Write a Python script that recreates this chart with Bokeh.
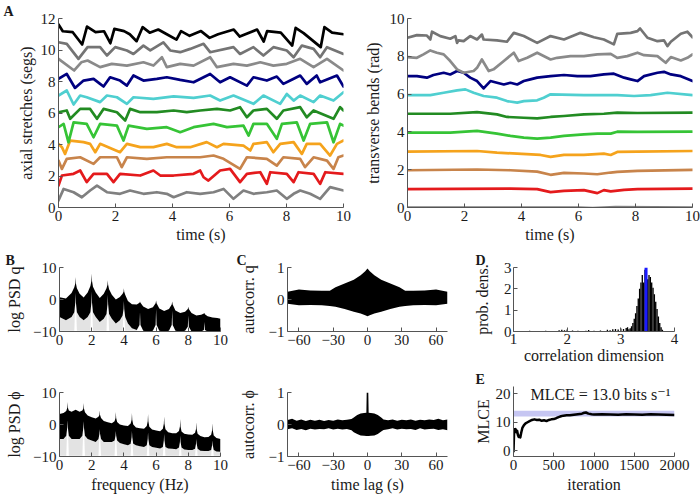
from bokeh.plotting import figure
from bokeh.layouts import row, column
from bokeh.models import Range1d, FixedTicker, Label, CustomJSTickFormatter
from bokeh.embed import file_html
from bokeh.resources import INLINE

# ---------------- DATA ----------------
# Panel A (left): axial stretches, keypoints (time s, value)
AX_GRAY1 = [(0, 0.44), (0.18, 1.18), (0.53, 0.97), (0.82, 0.65), (1.11, 1.08), (1.35, 1.39), (1.70, 0.97), (2.16, 0.87), (2.51, 1.08), (2.98, 0.87), (3.45, 0.97), (3.80, 0.87), (4.04, 0.65), (4.50, 0.97), (4.97, 0.87), (5.44, 0.97), (5.79, 1.18), (6.14, 0.55), (6.49, 1.08), (6.84, 0.87), (7.31, 0.97), (7.66, 1.08), (8.01, 0.55), (8.25, 0.87), (8.48, 1.08), (8.83, 0.87), (9.18, 0.55), (9.53, 1.29), (10, 1.08)]
AX_RED = [(0, 1.39), (0.12, 2.03), (0.53, 2.14), (0.76, 2.35), (0.99, 1.61), (1.23, 2.14), (1.70, 2.14), (1.93, 1.61), (2.16, 2.14), (2.87, 2.03), (3.33, 2.35), (3.57, 2.03), (4.04, 2.03), (4.74, 2.14), (4.97, 2.35), (5.09, 1.92), (5.26, 1.71), (5.67, 2.35), (6.02, 2.45), (6.37, 1.61), (6.61, 2.14), (7.08, 2.24), (7.31, 1.50), (7.43, 2.24), (8.01, 2.14), (8.25, 1.61), (8.42, 2.24), (8.95, 2.14), (9.18, 1.50), (9.36, 2.24), (10, 2.14)]
AX_BROWN = [(0, 2.98), (0.12, 2.45), (0.29, 3.09), (0.76, 3.19), (1.23, 2.77), (1.46, 3.19), (2.05, 3.19), (2.22, 2.56), (2.40, 3.19), (3.10, 3.09), (3.80, 3.19), (4.50, 3.19), (4.97, 3.19), (5.44, 3.30), (5.79, 3.09), (6.37, 2.45), (6.61, 3.19), (7.31, 3.09), (7.66, 2.66), (7.89, 3.19), (8.48, 3.09), (8.65, 2.56), (8.95, 3.19), (9.42, 2.98), (9.65, 2.45), (9.82, 3.19), (10, 3.30)]
AX_ORANGE = [(0, 4.04), (0.12, 3.83), (0.23, 3.40), (0.41, 4.25), (0.88, 4.15), (1.11, 4.04), (1.29, 3.51), (1.46, 4.04), (2.16, 3.51), (2.40, 4.04), (2.87, 3.83), (3.33, 3.83), (3.80, 4.04), (4.15, 3.83), (4.62, 3.83), (5.20, 4.15), (5.56, 3.83), (5.79, 4.04), (6.49, 3.93), (6.73, 3.62), (6.84, 4.04), (7.31, 4.15), (7.54, 3.51), (7.78, 4.04), (8.25, 4.15), (8.54, 3.40), (8.71, 4.04), (9.18, 4.04), (9.53, 3.30), (9.77, 4.04), (10, 4.25)]
AX_LIME = [(0, 5.10), (0.18, 5.31), (0.35, 4.14), (0.53, 5.41), (0.99, 5.31), (1.23, 4.46), (1.46, 5.31), (2.05, 5.20), (2.28, 4.25), (2.46, 5.20), (3.10, 4.99), (3.80, 5.10), (4.27, 4.78), (4.74, 5.10), (5.44, 5.31), (5.91, 5.10), (6.49, 5.20), (6.67, 4.57), (6.84, 5.31), (7.31, 5.31), (7.66, 4.36), (7.84, 5.31), (8.36, 5.41), (8.60, 4.25), (8.83, 5.31), (9.42, 5.41), (9.65, 4.14), (9.88, 5.31), (10, 5.20)]
AX_DGREEN = [(0, 6.05), (0.29, 6.16), (0.41, 5.63), (0.76, 6.26), (1.11, 6.26), (1.35, 5.63), (1.58, 6.26), (2.05, 6.05), (2.34, 5.52), (2.51, 6.26), (2.87, 6.05), (3.45, 6.05), (4.04, 6.16), (4.50, 6.05), (4.97, 6.16), (5.56, 6.26), (6.02, 6.16), (6.37, 6.37), (6.61, 5.73), (6.84, 6.16), (7.31, 6.26), (7.66, 5.63), (7.89, 6.16), (8.48, 6.37), (8.71, 5.73), (8.95, 6.16), (9.65, 5.63), (9.88, 6.37), (10, 6.16)]
AX_CYAN = [(0, 7.11), (0.29, 7.43), (0.53, 6.54), (0.76, 7.11), (0.99, 7.00), (1.46, 6.69), (1.70, 7.11), (2.05, 7.00), (2.40, 6.58), (2.63, 7.00), (3.33, 6.90), (4.04, 7.05), (4.74, 6.96), (5.32, 7.11), (5.67, 6.79), (6.14, 7.11), (6.84, 6.58), (7.19, 7.11), (7.78, 6.58), (8.01, 7.21), (8.25, 6.79), (8.48, 7.11), (8.95, 6.69), (9.18, 7.11), (9.65, 6.79), (10, 7.32)]
AX_NAVY = [(0, 8.17), (0.29, 8.48), (0.58, 7.59), (0.88, 8.06), (1.23, 8.17), (1.46, 7.85), (1.58, 7.68), (1.81, 8.27), (2.16, 8.06), (2.40, 7.74), (2.63, 8.38), (2.98, 8.06), (3.45, 8.17), (3.80, 8.27), (4.27, 8.10), (4.74, 7.95), (5.32, 8.48), (5.67, 7.95), (6.02, 8.27), (6.61, 7.74), (6.84, 8.27), (7.31, 8.06), (7.66, 8.31), (7.89, 7.85), (8.13, 8.06), (8.48, 8.38), (8.71, 7.85), (9.06, 8.38), (9.18, 7.95), (9.77, 8.38), (10, 7.68)]
AX_GRAY9 = [(0, 9.44), (0.55, 8.70), (0.80, 9.22), (1.02, 9.33), (1.46, 8.91), (1.87, 9.12), (2.40, 9.01), (2.98, 9.22), (3.33, 9.01), (3.63, 9.54), (3.80, 8.91), (4.27, 9.12), (4.74, 9.01), (5.32, 9.54), (5.56, 8.91), (6.14, 9.12), (6.61, 9.01), (7.08, 9.22), (7.54, 9.01), (8.01, 9.12), (8.48, 9.44), (8.95, 8.91), (9.42, 9.44), (10, 8.70)]
AX_GRAY10 = [(0, 10.49), (0.29, 10.39), (0.70, 9.44), (1.02, 10.18), (1.46, 10.18), (1.70, 9.65), (1.99, 10.18), (2.40, 9.97), (2.63, 9.75), (2.98, 10.28), (3.22, 9.97), (3.68, 10.49), (3.92, 9.97), (4.27, 9.86), (4.62, 10.07), (5.09, 10.39), (5.32, 9.86), (6.14, 10.18), (6.37, 9.75), (6.84, 10.18), (7.19, 9.65), (7.54, 10.18), (8.01, 9.97), (8.25, 9.54), (8.54, 10.28), (8.95, 10.07), (9.18, 9.54), (9.42, 10.18), (10, 9.75)]
AX_BLACK = [(0, 11.62), (0.15, 11.19), (0.50, 11.13), (0.83, 10.35), (1.00, 11.49), (1.30, 11.13), (1.60, 11.19), (1.82, 10.43), (1.96, 11.34), (2.30, 11.20), (2.50, 11.00), (2.74, 10.56), (2.95, 11.45), (3.20, 11.10), (3.50, 11.30), (3.80, 11.00), (4.14, 10.66), (4.30, 11.20), (4.60, 10.90), (5.00, 11.20), (5.30, 10.77), (5.60, 11.00), (6.15, 11.30), (6.36, 10.85), (6.97, 11.30), (7.20, 10.54), (7.32, 11.20), (7.80, 11.10), (8.20, 10.28), (8.32, 11.40), (8.60, 11.07), (9.20, 10.18), (9.33, 11.45), (9.60, 11.10), (10, 11.00)]

# Panel A (right): transverse bends, keypoints (time s, value)
TB_GRAY0 = [(0, 0.0), (6.0, 0.0), (6.5, -0.03), (7.3, 0.02), (10, 0.0)]
TB_RED = [(0, 0.97), (3.61, 1.00), (4.55, 0.97), (5.02, 0.81), (5.49, 0.88), (6.19, 0.92), (6.66, 0.76), (6.89, 0.92), (7.13, 0.85), (7.60, 0.93), (8.07, 0.97), (10, 1.00)]
TB_BROWN = [(0, 1.97), (2.44, 2.01), (3.61, 1.97), (4.55, 1.90), (5.02, 1.73), (5.49, 1.83), (6.19, 1.80), (6.66, 1.76), (7.13, 1.85), (7.36, 1.88), (8.07, 1.94), (10, 1.99)]
TB_ORANGE = [(0, 2.96), (2.44, 2.99), (3.14, 2.90), (3.85, 2.85), (4.67, 2.78), (5.02, 2.68), (5.49, 2.78), (6.19, 2.78), (6.89, 2.85), (7.13, 2.78), (7.36, 2.94), (8.07, 2.96), (10, 2.99)]
TB_LIME = [(0, 3.96), (1.50, 3.96), (2.44, 4.05), (3.14, 3.91), (3.61, 3.79), (4.08, 3.70), (4.55, 3.64), (5.02, 3.70), (5.49, 3.79), (6.19, 3.87), (6.66, 3.91), (7.13, 3.91), (7.36, 4.01), (8.07, 4.00), (10, 4.01)]
TB_DGREEN = [(0, 4.96), (1.50, 4.96), (2.44, 5.05), (3.14, 4.93), (3.49, 4.79), (4.08, 4.75), (4.55, 4.72), (5.02, 4.79), (5.49, 4.84), (6.19, 4.93), (6.89, 4.96), (7.36, 5.02), (8.07, 5.00), (10, 5.02)]
TB_CYAN = [(0, 5.95), (0.80, 5.95), (1.27, 6.07), (1.74, 6.20), (2.03, 6.25), (2.32, 6.07), (2.67, 5.90), (3.14, 5.81), (3.49, 5.63), (3.85, 5.55), (4.08, 5.63), (4.55, 5.67), (4.78, 5.81), (5.02, 5.99), (6.19, 5.95), (7.36, 5.95), (7.95, 5.90), (8.53, 5.95), (9.12, 6.07), (10, 5.95)]
TB_NAVY = [(0, 6.95), (0.33, 6.95), (0.68, 6.87), (0.91, 7.01), (1.27, 7.13), (1.50, 7.04), (1.74, 7.22), (1.97, 7.13), (2.20, 6.87), (2.44, 6.69), (2.67, 6.30), (2.91, 6.69), (3.14, 6.60), (3.38, 6.51), (3.61, 6.60), (3.85, 6.51), (4.08, 6.69), (4.31, 6.78), (4.55, 6.87), (5.02, 6.95), (5.49, 7.01), (5.96, 6.95), (6.42, 6.95), (6.89, 7.04), (7.24, 7.08), (7.60, 6.87), (7.83, 6.78), (8.07, 6.69), (8.30, 6.95), (8.77, 7.13), (9.00, 7.18), (9.24, 7.04), (9.59, 6.95), (10, 6.69)]
TB_GRAY8 = [(0, 7.96), (0.33, 7.92), (0.56, 8.10), (0.80, 8.31), (1.03, 8.19), (1.27, 8.10), (1.50, 7.75), (1.74, 7.31), (1.97, 7.13), (2.32, 7.22), (2.44, 7.39), (2.61, 7.83), (2.85, 7.22), (3.02, 7.31), (3.38, 7.75), (3.73, 8.19), (3.90, 7.75), (4.20, 7.92), (4.55, 8.19), (5.02, 7.83), (5.25, 7.92), (5.72, 8.01), (6.19, 8.01), (6.66, 8.10), (7.13, 8.13), (7.36, 7.92), (7.71, 8.01), (8.07, 8.19), (8.30, 8.06), (8.77, 8.01), (9.06, 7.66), (9.24, 7.96), (9.59, 7.78), (9.82, 7.92), (10, 8.10)]
TB_GRAY9 = [(0, 8.98), (0.33, 9.12), (0.68, 9.10), (0.80, 8.89), (0.86, 9.30), (1.15, 9.07), (1.50, 8.93), (1.68, 9.07), (1.74, 8.71), (1.79, 8.84), (1.97, 8.80), (2.20, 9.07), (2.44, 8.89), (2.61, 9.15), (2.67, 8.89), (3.14, 8.84), (3.49, 8.77), (3.73, 9.24), (4.08, 9.07), (4.55, 8.71), (5.02, 9.07), (5.49, 8.89), (6.07, 9.24), (6.54, 9.01), (6.89, 8.89), (7.24, 8.63), (7.36, 9.19), (7.83, 9.24), (8.07, 9.33), (8.16, 9.47), (8.42, 8.98), (8.77, 8.80), (9.00, 8.84), (9.12, 8.54), (9.24, 8.77), (9.59, 9.19), (9.82, 9.30), (10, 9.01)]

STRETCH_SERIES = [AX_GRAY1, AX_RED, AX_BROWN, AX_ORANGE, AX_LIME, AX_DGREEN, AX_CYAN, AX_NAVY, AX_GRAY9, AX_GRAY10, AX_BLACK]
STRETCH_COLORS = ["#808080", "#e41a1c", "#c8844b", "#f5a31c", "#36c436", "#228b22", "#4fcfd0", "#000080", "#8a8a8a", "#747474", "#000000"]
BEND_SERIES = [TB_GRAY0, TB_RED, TB_BROWN, TB_ORANGE, TB_LIME, TB_DGREEN, TB_CYAN, TB_NAVY, TB_GRAY8, TB_GRAY9]
BEND_COLORS = ["#808080", "#e41a1c", "#c8844b", "#f5a31c", "#36c436", "#228b22", "#4fcfd0", "#000080", "#8a8a8a", "#747474"]

# Panel B: log PSD envelopes (freq Hz, upper, lower of dense band, lower of faint band)
PSD_Q = [
    (0.00, 0.7, -5.5, -9.8), (0.40, 0.3, -6.5, -9.8), (0.75, 2.0, -5.5, -9.8), (0.92, 3.8, -4.0, -9.8),
    (0.98, 5.0, -1.0, -1.0), (1.00, 7.0, 2.0, 2.0), (1.02, 5.0, -1.0, -1.0), (1.08, 3.5, -4.0, -9.8),
    (1.25, 1.8, -5.5, -9.8), (1.50, 0.6, -6.5, -9.8), (1.75, 2.2, -5.5, -9.8), (1.92, 4.2, -4.0, -9.8),
    (1.98, 5.8, -1.0, -1.0), (2.00, 8.1, 2.5, 2.5), (2.02, 5.8, -1.0, -1.0), (2.08, 4.0, -4.0, -9.8),
    (2.25, 2.2, -5.5, -9.8), (2.50, 0.5, -7.0, -9.8), (2.75, 1.8, -6.0, -9.8), (2.92, 3.5, -4.5, -9.8),
    (2.98, 4.6, -1.5, -1.5), (3.00, 6.0, 1.5, 1.5), (3.02, 4.6, -1.5, -1.5), (3.08, 3.2, -4.5, -9.8),
    (3.25, 1.5, -6.0, -9.8), (3.50, 0.0, -7.5, -9.8), (3.75, 0.8, -6.5, -9.8), (3.92, 1.8, -5.0, -9.8),
    (3.98, 2.4, -3.0, -3.0), (4.00, 3.5, -0.5, -0.5), (4.02, 2.4, -3.0, -3.0), (4.08, 1.5, -5.5, -9.8),
    (4.25, -0.5, -7.5, -9.8), (4.50, -1.5, -9.0, -9.8), (4.80, -1.6, -9.5, -9.8), (4.97, -1.0, -8.0, -8.0),
    (5.00, -0.6, -4.0, -4.0), (5.03, -1.0, -8.0, -8.0), (5.20, -2.2, -9.8, -9.8), (5.50, -3.0, -10, -10),
    (5.80, -2.4, -9.8, -9.8), (5.97, -1.2, -8.0, -8.0), (6.00, -0.3, -3.0, -3.0), (6.03, -1.2, -8.0, -8.0),
    (6.20, -2.8, -9.8, -9.8), (6.50, -3.6, -10, -10), (6.80, -3.0, -9.8, -9.8), (6.97, -1.6, -8.0, -8.0),
    (7.00, -0.6, -3.5, -3.5), (7.03, -1.6, -8.0, -8.0), (7.20, -3.4, -9.8, -9.8), (7.50, -4.2, -10, -10),
    (7.80, -3.8, -9.8, -9.8), (7.97, -3.0, -8.5, -8.5), (8.00, -2.3, -5.0, -5.0), (8.03, -3.0, -8.5, -8.5),
    (8.20, -4.2, -10, -10), (8.50, -5.0, -10, -10), (8.80, -4.8, -10, -10), (8.97, -4.4, -9.5, -9.5),
    (9.00, -4.2, -7.0, -7.0), (9.03, -4.6, -9.5, -9.5), (9.20, -5.2, -10, -10), (9.50, -5.6, -10, -10),
    (9.80, -5.8, -10, -10), (10.0, -6.0, -10, -10),
]
PSD_PHI = [
    (0.00, 3.3, -4.5, -9.8), (0.25, 3.6, -4.5, -9.8), (0.42, 4.2, -3.5, -9.8), (0.48, 5.2, -1.0, -1.0),
    (0.50, 7.0, 1.3, 1.3), (0.52, 5.2, -1.0, -1.0), (0.58, 4.4, -3.5, -9.8), (0.75, 4.0, -4.5, -9.8),
    (1.00, 4.6, -4.5, -9.8), (1.25, 4.0, -4.5, -9.8), (1.42, 4.4, -3.5, -9.8), (1.48, 5.0, -1.0, -1.0),
    (1.50, 6.7, 1.0, 1.0), (1.52, 5.0, -1.0, -1.0), (1.58, 3.8, -3.5, -9.8), (1.75, 2.8, -4.5, -9.8),
    (2.00, 2.3, -5.0, -9.8), (2.25, 1.9, -5.5, -9.8), (2.42, 2.4, -4.5, -9.8), (2.48, 3.0, -3.0, -3.0),
    (2.50, 4.4, -1.5, -1.5), (2.52, 3.0, -3.0, -3.0), (2.58, 2.0, -4.5, -9.8), (2.75, 1.1, -5.5, -9.8),
    (3.00, 0.7, -5.5, -9.8), (3.25, 0.4, -5.5, -9.8), (3.42, 1.0, -5.0, -9.8), (3.48, 2.0, -3.5, -3.5),
    (3.50, 3.9, -2.0, -2.0), (3.52, 2.0, -3.5, -3.5), (3.58, 0.8, -5.0, -9.8), (3.75, 0.0, -5.8, -9.8),
    (4.00, -0.3, -6.2, -9.8), (4.25, -0.5, -6.5, -9.8), (4.42, 0.3, -6.0, -9.8), (4.48, 1.5, -4.0, -4.0),
    (4.50, 3.6, -2.0, -2.0), (4.52, 1.5, -4.0, -4.0), (4.58, 0.0, -6.0, -9.8), (4.75, -0.9, -6.5, -9.8),
    (5.00, -1.2, -6.8, -9.8), (5.25, -1.3, -7.0, -9.8), (5.42, -0.5, -6.5, -9.8), (5.48, 1.0, -4.5, -4.5),
    (5.50, 3.3, -2.5, -2.5), (5.52, 1.0, -4.5, -4.5), (5.58, -0.7, -6.5, -9.8), (5.75, -1.6, -7.0, -9.8),
    (6.00, -1.9, -7.3, -9.8), (6.25, -2.1, -7.5, -9.8), (6.42, -1.3, -7.0, -9.8), (6.48, 0.2, -5.0, -5.0),
    (6.50, 2.5, -3.0, -3.0), (6.52, 0.2, -5.0, -5.0), (6.58, -1.5, -7.0, -9.8), (6.75, -2.4, -7.5, -9.8),
    (7.00, -2.7, -7.6, -9.8), (7.25, -2.7, -7.7, -9.8), (7.42, -2.0, -7.2, -9.8), (7.48, -0.6, -5.5, -5.5),
    (7.50, 1.7, -3.5, -3.5), (7.52, -0.6, -5.5, -5.5), (7.58, -2.2, -7.2, -9.8), (7.75, -2.9, -7.8, -9.8),
    (8.00, -3.1, -8.0, -9.8), (8.25, -3.2, -8.0, -9.8), (8.42, -2.6, -7.6, -9.8), (8.48, -1.4, -6.0, -6.0),
    (8.50, 0.7, -4.5, -4.5), (8.52, -1.4, -6.0, -6.0), (8.58, -2.9, -7.6, -9.8), (8.75, -3.6, -8.2, -9.8),
    (9.00, -4.0, -8.3, -9.8), (9.25, -3.9, -8.3, -9.8), (9.42, -3.2, -8.0, -9.8), (9.48, -1.8, -6.5, -6.5),
    (9.50, 0.4, -5.0, -5.0), (9.52, -1.8, -6.5, -6.5), (9.58, -3.4, -8.0, -9.8), (9.75, -4.2, -8.4, -9.8),
    (10.0, -4.5, -8.5, -9.8),
]

# Panel C: autocorrelation envelopes (lag s, upper, lower)
AC_Q = [(-70, 0.24, -0.13), (-60, 0.31, -0.18), (-50, 0.28, -0.17), (-40, 0.27, -0.18), (-33, 0.27, -0.20),
        (-28, 0.38, -0.23), (-20, 0.50, -0.30), (-12, 0.62, -0.38), (-6, 0.76, -0.44), (-2, 0.88, -0.49),
        (0, 0.97, -0.52), (2, 0.88, -0.49), (6, 0.76, -0.44), (12, 0.62, -0.38), (20, 0.50, -0.30),
        (28, 0.38, -0.23), (33, 0.27, -0.20), (40, 0.27, -0.18), (50, 0.28, -0.17), (60, 0.31, -0.18), (70, 0.24, -0.13)]
AC_PHI = [(-70, 0.14, -0.15), (-66, 0.18, -0.12), (-62, 0.12, -0.17), (-58, 0.16, -0.14), (-54, 0.11, -0.18),
          (-50, 0.15, -0.13), (-46, 0.12, -0.16), (-42, 0.15, -0.14), (-38, 0.11, -0.15), (-34, 0.14, -0.12),
          (-30, 0.12, -0.16), (-26, 0.16, -0.13), (-22, 0.13, -0.16), (-18, 0.15, -0.14), (-14, 0.17, -0.18),
          (-12, 0.22, -0.24), (-9, 0.30, -0.30), (-6, 0.34, -0.34), (-3, 0.36, -0.35), (-1.0, 0.37, -0.36),
          (-0.7, 1.0, -0.36), (0.7, 1.0, -0.36), (1.0, 0.37, -0.36), (3, 0.36, -0.35), (6, 0.34, -0.34),
          (9, 0.30, -0.30), (12, 0.22, -0.22), (14, 0.16, -0.17), (18, 0.13, -0.15), (22, 0.16, -0.12),
          (26, 0.12, -0.16), (30, 0.15, -0.13), (34, 0.13, -0.15), (38, 0.16, -0.14), (42, 0.12, -0.17),
          (46, 0.15, -0.12), (50, 0.13, -0.16), (54, 0.16, -0.14), (58, 0.14, -0.13), (62, 0.18, -0.17),
          (66, 0.13, -0.15), (70, 0.16, -0.18)]

# Panel D: histogram of correlation dimension
CD_BINS = [1.05, 1.20, 1.30, 1.45, 1.60, 1.72, 1.85, 1.90, 1.95, 2.00, 2.10, 2.20, 2.35, 2.40, 2.50, 2.62,
           2.75, 2.80, 2.85, 2.90, 2.95, 3.00, 3.05, 3.10, 3.125,
           3.150, 3.175, 3.200, 3.225, 3.250, 3.275, 3.300, 3.325, 3.350, 3.375, 3.400, 3.425, 3.450,
           3.475, 3.500, 3.525, 3.550, 3.575, 3.600, 3.625, 3.650, 3.675, 3.700, 3.725, 3.750, 3.775]
CD_DENS = [0.02, 0.02, 0.03, 0.02, 0.03, 0.02, 0.06, 0.08, 0.06, 0.09, 0.05, 0.04, 0.03, 0.07, 0.03, 0.05,
           0.08, 0.06, 0.10, 0.12, 0.09, 0.14, 0.12, 0.16, 0.20,
           0.10, 0.15, 0.25, 0.40, 0.60, 0.85, 1.20, 1.55, 2.00, 2.30, 2.65, 2.30, 2.90,
           2.75, 2.45, 2.65, 2.55, 2.30, 2.05, 1.75, 1.40, 1.05, 0.70, 0.40, 0.20, 0.08]
CD_BIN_WIDTH = 0.025
CD_MEAN = 3.47
CD_MEAN_TOP = 3.0

# Panel E: MLCE convergence
ITER = [0, 8, 15, 25, 35, 45, 55, 65, 75, 85, 95, 110, 130, 150, 175, 200, 230, 260, 290, 320, 350, 380, 410,
        440, 470, 500, 530, 560, 590, 620, 660, 700, 750, 800, 850, 880, 900, 930, 970, 1000, 1100, 1200,
        1300, 1400, 1500, 1600, 1700, 1800, 1900, 2000]
MLCE = [-0.5, 7.5, 6.8, 7.6, 6.5, 7.0, 5.5, 4.8, 5.2, 4.7, 6.2, 8.0, 9.0, 9.6, 10.0, 10.4, 10.8, 11.0, 10.8,
        10.9, 10.5, 10.7, 10.4, 10.8, 11.0, 11.1, 11.4, 11.8, 12.1, 12.3, 12.4, 12.4, 12.6, 12.8, 13.0, 13.3,
        13.4, 13.0, 12.8, 12.7, 12.8, 12.7, 12.6, 12.8, 12.7, 12.6, 12.8, 12.7, 12.6, 12.5]
MLCE_MEAN = 13.0
MLCE_SPREAD = 1.0
MLCE_TEXT = "MLCE = 13.0 bits s\u207b\u00b9"

# ---------------- STYLE / HELPERS ----------------
FONT = "'Liberation Serif', 'DejaVu Serif', serif"
AXIS_COLOR = "#555555"
TEXT_COLOR = "#1a1a1a"
TICK_SIZE = "15px"
LABEL_SIZE = "16px"
MINUS_FMT = "return (tick < 0 ? '\\u2212' + Math.abs(tick) : String(tick));"


def make_fig(width, height, xr, yr, xticks, yticks, borders, ylab_standoff=5, xlab_standoff=2,
             letter=None, letter_offset=0, tick_standoff=3):
    left, right, top, bottom = borders
    p = figure(width=width, height=height, x_range=Range1d(*xr), y_range=Range1d(*yr),
               output_backend="svg", toolbar_location=None, tools="", title=letter,
               min_border_left=left, min_border_right=right,
               min_border_top=top, min_border_bottom=bottom)
    if letter is not None:
        p.title.align = "left"
        p.title.offset = letter_offset
        p.title.standoff = 0
        p.title.text_font = FONT
        p.title.text_font_size = "14px"
        p.title.text_font_style = "bold"
        p.title.text_color = TEXT_COLOR
    p.outline_line_color = None
    p.xgrid.visible = False
    p.ygrid.visible = False
    p.background_fill_color = "white"
    p.border_fill_color = "white"
    for ax, ticks in ((p.xaxis[0], xticks), (p.yaxis[0], yticks)):
        ax.ticker = FixedTicker(ticks=ticks)
        ax.formatter = CustomJSTickFormatter(code=MINUS_FMT)
        ax.axis_line_color = AXIS_COLOR
        ax.axis_line_width = 1
        ax.major_tick_line_color = AXIS_COLOR
        ax.major_tick_in = 4
        ax.major_tick_out = 0
        ax.minor_tick_line_color = None
        ax.major_label_text_font = FONT
        ax.major_label_text_font_size = TICK_SIZE
        ax.major_label_text_color = TEXT_COLOR
        ax.major_label_standoff = tick_standoff
        ax.axis_label_text_font = FONT
        ax.axis_label_text_font_size = LABEL_SIZE
        ax.axis_label_text_font_style = "normal"
        ax.axis_label_text_color = TEXT_COLOR
    p.xaxis[0].axis_label_standoff = xlab_standoff
    p.yaxis[0].axis_label_standoff = ylab_standoff
    return p


def draw_traces(p, series, colors):
    for pts, col in zip(series, colors):
        p.line([a for a, b in pts], [b for a, b in pts], line_color=col, line_width=2.7,
               line_join="round", line_cap="round")


def draw_psd(p, rows):
    f = [r[0] for r in rows]
    up = [r[1] for r in rows]
    lo = [r[2] for r in rows]
    fade = [r[3] for r in rows]
    p.varea(x=f, y1=fade, y2=lo, fill_color="#9a9a9a", fill_alpha=0.28)
    p.varea(x=f, y1=lo, y2=up, fill_color="black")


def draw_ac(p, rows):
    p.varea(x=[r[0] for r in rows], y1=[r[2] for r in rows], y2=[r[1] for r in rows], fill_color="black")


# ---------------- PANEL A ----------------
fa1 = make_fig(357, 248, (0, 10), (0, 12), [0, 2, 4, 6, 8, 10], [0, 2, 4, 6, 8, 10, 12], (58, 14, 18, 41),
               ylab_standoff=3, letter="A", letter_offset=-55)
fa1.xaxis.axis_label = "time (s)"
fa1.yaxis.axis_label = "axial stretches (segs)"
draw_traces(fa1, STRETCH_SERIES, STRETCH_COLORS)

fa2 = make_fig(343, 248, (0, 10), (0, 10), [0, 2, 4, 6, 8, 10], [0, 2, 4, 6, 8, 10], (50, 8, 18, 41),
               ylab_standoff=5)
fa2.xaxis.axis_label = "time (s)"
fa2.yaxis.axis_label = "transverse bends (rad)"
draw_traces(fa2, BEND_SERIES, BEND_COLORS)

# ---------------- PANEL B ----------------
fb1 = make_fig(233, 119, (0, 10), (-10, 10), [0, 2, 4, 6, 8, 10], [-10, 0, 10], (59, 13, 19, 36),
               ylab_standoff=7, letter="B", letter_offset=-54)
fb1.yaxis.axis_label = "log PSD q"
draw_psd(fb1, PSD_Q)

fb2 = make_fig(233, 131, (0, 10), (-10, 10), [0, 2, 4, 6, 8, 10], [-10, 0, 10], (59, 13, 25, 42),
               ylab_standoff=7, xlab_standoff=3)
fb2.yaxis.axis_label = "log PSD \u03d5"
fb2.xaxis.axis_label = "frequency (Hz)"
draw_psd(fb2, PSD_PHI)

# ---------------- PANEL C ----------------
fc1 = make_fig(227, 119, (-70, 70), (-1, 1), [-60, -30, 0, 30, 60], [-1, 0, 1], (54, 13, 19, 36),
               ylab_standoff=9, letter="C", letter_offset=-51)
fc1.yaxis.axis_label = "autocorr. q"
draw_ac(fc1, AC_Q)

fc2 = make_fig(227, 131, (-70, 70), (-1, 1), [-60, -30, 0, 30, 60], [-1, 0, 1], (54, 13, 25, 42),
               ylab_standoff=9, xlab_standoff=3)
fc2.yaxis.axis_label = "autocorr. \u03d5"
fc2.xaxis.axis_label = "time lag (s)"
draw_ac(fc2, AC_PHI)

# ---------------- PANEL D ----------------
fd = make_fig(240, 121, (1, 4), (0, 3), [1, 2, 3, 4], [0, 1, 2, 3], (53, 26, 19, 38),
              ylab_standoff=10, xlab_standoff=0, tick_standoff=2, letter="D", letter_offset=-38)
fd.yaxis.axis_label = "prob. dens."
fd.xaxis.axis_label = "correlation dimension"
fd.vbar(x=CD_BINS, width=CD_BIN_WIDTH, top=CD_DENS, bottom=0, fill_color="black", line_color=None)
fd.segment(x0=CD_MEAN, y0=0, x1=CD_MEAN, y1=CD_MEAN_TOP, line_color="#1a1aff", line_width=3)

# ---------------- PANEL E ----------------
MLCE_TEXT_X = 1080
MLCE_TEXT_Y = 19.8
fe = make_fig(240, 129, (0, 2000), (-2, 22.5), [0, 500, 1000, 1500, 2000], [0, 10, 20], (53, 26, 15, 42),
              ylab_standoff=1, xlab_standoff=3, letter="E", letter_offset=-38)
fe.yaxis.axis_label = "MLCE"
fe.xaxis.axis_label = "iteration"
fe.quad(left=ITER[0], right=ITER[-1], bottom=MLCE_MEAN - MLCE_SPREAD, top=MLCE_MEAN + MLCE_SPREAD,
        fill_color="#c6c6f2", line_color=None)
fe.line(ITER, MLCE, line_color="black", line_width=2.5, line_join="round")
fe.add_layout(Label(x=MLCE_TEXT_X, y=MLCE_TEXT_Y, text=MLCE_TEXT, text_font=FONT,
                    text_font_size=LABEL_SIZE, text_color=TEXT_COLOR, text_align="center",
                    text_baseline="middle"))

layout = column(row(fa1, fa2), row(column(fb1, fb2), column(fc1, fc2), column(fd, fe)))
open("out.html", "w").write(file_html(layout, INLINE))
